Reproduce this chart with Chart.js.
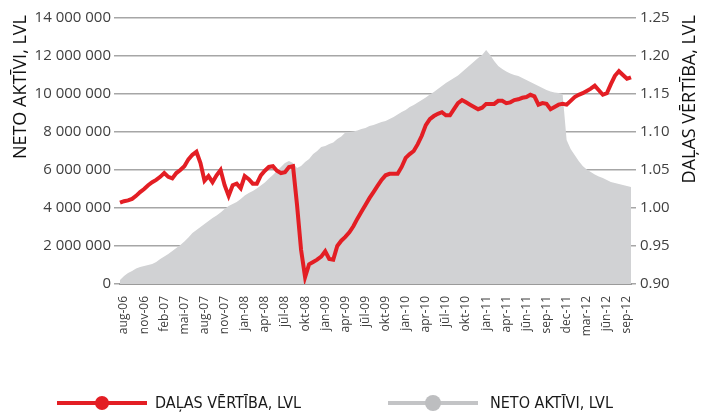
<!DOCTYPE html>
<html>
<head>
<meta charset="utf-8">
<script src="https://cdn.jsdelivr.net/npm/chart.js@4.4.1/dist/chart.umd.min.js"></script>
<style>
  body { margin: 0; background: #fff; }
  #wrap { position: relative; width: 701px; height: 412px; }
  .leg { position: absolute; top: 394px; font: 16px "Liberation Sans Narrow", "DejaVu Sans Condensed", sans-serif; color: #1a1a1a; line-height: 18px; }
  .sw { position: absolute; height: 4px; top: 401px; }
  .dot { position: absolute; border-radius: 50%; }
</style>
</head>
<body>
<div id="wrap">
  <canvas id="myChart" width="701" height="412"></canvas>
  <div class="sw" style="left:57px;width:90px;background:#e31e24"></div>
  <div class="dot" style="left:95px;top:396px;width:14px;height:14px;background:#e31e24"></div>
  <div class="leg" style="left:155px">DAĻAS VĒRTĪBA, LVL</div>
  <div class="sw" style="left:388px;width:90px;background:#c3c4c6"></div>
  <div class="dot" style="left:425px;top:395px;width:16px;height:16px;background:#bdbec0"></div>
  <div class="leg" style="left:490px">NETO AKTĪVI, LVL</div>
</div>
<script>
// tick labels on the x axis (one every 5 points, starting at point 1)
const tickLabels = ['aug-06','nov-06','feb-07','mai-07','aug-07','nov-07','jan-08','apr-08','jūl-08','okt-08',
  'jan-09','apr-09','jūl-09','okt-09','jan-10','apr-10','jūl-10','okt-10','jan-11','apr-11',
  'jūn-11','sep-11','dec-11','mar-12','jūn-12','sep-12'];

// unit value, LVL (right axis)
const dalasVertiba = [
  1.007,1.009,1.010,1.012,1.016,1.021,1.025,1.030,1.034,1.037,
  1.041,1.046,1.041,1.039,1.046,1.050,1.055,1.064,1.070,1.074,
  1.059,1.036,1.042,1.034,1.043,1.050,1.030,1.016,1.030,1.032,
  1.026,1.042,1.038,1.032,1.032,1.043,1.049,1.054,1.055,1.049,
  1.046,1.047,1.054,1.055,1.004,0.945,0.909,0.926,0.929,0.932,
  0.936,0.943,0.933,0.932,0.950,0.957,0.962,0.968,0.976,0.986,
  0.995,1.004,1.013,1.021,1.029,1.037,1.043,1.045,1.045,1.045,
  1.054,1.066,1.071,1.075,1.084,1.095,1.109,1.117,1.121,1.124,
  1.126,1.122,1.122,1.130,1.138,1.142,1.139,1.136,1.133,1.130,
  1.132,1.137,1.137,1.137,1.141,1.141,1.138,1.139,1.142,1.143,
  1.145,1.146,1.149,1.147,1.136,1.138,1.137,1.130,1.133,1.136,
  1.137,1.136,1.141,1.146,1.149,1.151,1.154,1.157,1.161,1.155,
  1.149,1.151,1.163,1.174,1.180,1.175,1.170,1.172
];

// net assets, LVL (left axis)
const netoAktivi = [
  210000,421000,579000,684000,816000,895000,947000,1000000,1053000,1158000,
  1316000,1447000,1579000,1737000,1895000,2053000,2237000,2447000,2684000,2842000,
  3000000,3158000,3316000,3474000,3605000,3763000,3947000,4105000,4211000,4316000,
  4474000,4658000,4789000,4895000,5026000,5184000,5342000,5553000,5737000,5947000,
  6158000,6368000,6474000,6368000,6105000,6211000,6421000,6579000,6842000,7000000,
  7211000,7263000,7368000,7447000,7632000,7763000,7974000,8000000,8026000,8079000,
  8158000,8211000,8316000,8368000,8447000,8526000,8579000,8684000,8789000,8921000,
  9053000,9158000,9316000,9421000,9553000,9684000,9816000,9974000,10105000,10263000,
  10421000,10579000,10711000,10842000,10974000,11158000,11342000,11526000,11711000,11895000,
  12053000,12316000,12053000,11737000,11474000,11316000,11184000,11079000,11000000,10947000,
  10842000,10737000,10632000,10526000,10421000,10316000,10211000,10132000,10079000,10053000,
  10000000,7579000,7105000,6789000,6474000,6211000,6026000,5895000,5763000,5658000,
  5579000,5474000,5368000,5316000,5263000,5211000,5158000,5105000
];

const labels = netoAktivi.map((v, i) => (i % 5 === 1 ? tickLabels[(i - 1) / 5] || '' : ''));

const tickFont = { family: '"Open Sans", sans-serif', size: 15 };
const gridGrey = '#a6a6a6';

// draws both axis titles reading bottom-to-top, aligned to the top
const axisTitles = {
  id: 'axisTitles',
  afterDraw(chart) {
    const ctx = chart.ctx;
    ctx.save();
    ctx.font = '18px "Open Sans", sans-serif';
    ctx.fillStyle = '#111';
    ctx.textAlign = 'right';
    ctx.textBaseline = 'middle';
    [[21, 'NETO AKTĪVI, LVL'], [690, 'DAĻAS VĒRTĪBA, LVL']].forEach(function(t) {
      ctx.save();
      ctx.translate(t[0], 15);
      ctx.rotate(-Math.PI / 2);
      ctx.fillText(t[1], 0, 0);
      ctx.restore();
    });
    ctx.restore();
  }
};

const myChart = new Chart(document.getElementById('myChart'), {
  type: 'line',
  data: {
    labels: labels,
    datasets: [{
      label: 'DAĻAS VĒRTĪBA, LVL',
      data: dalasVertiba,
      yAxisID: 'y1',
      borderColor: '#e31e24',
      borderWidth: 4,
      pointRadius: 0,
      fill: false,
      order: 0
    }, {
      label: 'NETO AKTĪVI, LVL',
      data: netoAktivi,
      yAxisID: 'y',
      borderWidth: 0,
      borderColor: '#d1d2d4',
      backgroundColor: '#d1d2d4',
      pointRadius: 0,
      fill: 'origin',
      order: 1
    }]
  },
  options: {
    responsive: false,
    animation: false,
    layout: { padding: { top: 18, left: 0, right: 0, bottom: 70 } },
    plugins: { legend: { display: false }, tooltip: { enabled: false } },
    scales: {
      x: {
        grid: { display: false },
        border: { color: '#9a9a9a', width: 2 },
        ticks: {
          autoSkip: false, minRotation: 90, maxRotation: 90, padding: 4,
          color: '#404040', font: { family: '"Open Sans", sans-serif', size: 12 }
        },
        afterFit: function(s) { s.height = 58; }
      },
      y: {
        position: 'left',
        min: 0, max: 14000000,
        border: { display: false },
        grid: { color: gridGrey, lineWidth: 1.5, tickLength: 6 },
        ticks: {
          stepSize: 2000000, padding: 3, color: '#404040', font: tickFont,
          callback: v => String(v).replace(/\B(?=(\d{3})+(?!\d))/g, ' ')
        },
        afterFit: function(s) { s.width = 120; }
      },
      y1: {
        position: 'right',
        min: 0.9, max: 1.25,
        border: { display: false },
        grid: { drawOnChartArea: false, color: gridGrey, lineWidth: 1.5, tickLength: 5 },
        ticks: {
          stepSize: 0.05, padding: 4, color: '#404040', font: tickFont,
          callback: v => v.toFixed(2)
        },
        afterFit: function(s) { s.width = 70; }
      }
    }
  },
  plugins: [axisTitles]
});
</script>
</body>
</html>
